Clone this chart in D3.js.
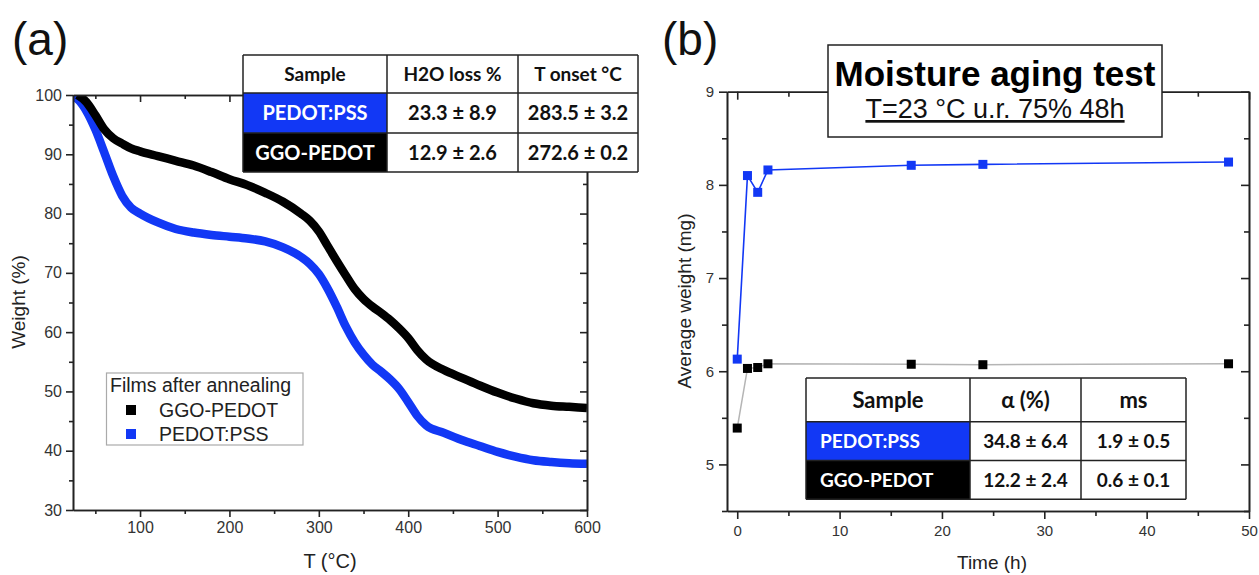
<!DOCTYPE html>
<html><head><meta charset="utf-8">
<script src="https://cdn.jsdelivr.net/npm/d3@7"></script>
<style>
body{margin:0;background:#fff;}
svg{display:block;font-family:"Liberation Sans",Arial,sans-serif;}
</style></head><body>
<svg id="chart" width="1259" height="575"></svg>
<script>
// ---------- Panel (a): TGA data ----------
const tgaTemperature = [25,30,40,50,60,70,80,90,100,120,140,160,180,200,220,240,260,280,290,300,310,320,330,340,350,360,370,380,390,400,410,420,440,460,480,500,520,540,560,580,600];
const ggoPedotWeight = [null,100,98.8,96.6,94.2,92.7,91.8,91.0,90.5,89.7,88.9,88.1,87.0,85.8,84.8,83.5,82.0,80.0,78.8,77.0,74.5,72.0,69.6,67.3,65.6,64.3,63.2,62.0,60.6,59.0,57.0,55.4,53.6,52.3,51.0,49.8,48.8,48.0,47.6,47.4,47.2];
const pedotPssWeight = [99.8,99.3,97.3,94.2,90.3,86.3,83.0,81.0,80.0,78.5,77.4,76.8,76.4,76.1,75.8,75.3,74.3,72.7,71.5,69.8,67.3,64.3,61.0,58.3,56.2,54.5,53.3,52.0,50.4,48.2,45.9,44.3,43.0,41.8,40.8,39.8,39.0,38.4,38.1,37.9,37.8];
const tgaXTicks = [100,200,300,400,500,600];
const tgaXMinor = [50,150,250,350,450,550];
const tgaYTicks = [30,40,50,60,70,80,90,100];
const tgaYMinor = [35,45,55,65,75,85,95];
const legendTitle = "Films after annealing";
const legendNames = ["GGO-PEDOT","PEDOT:PSS"];
const tableAHeader = ["Sample","H2O loss %","T onset °C"];
const tableARows = [["PEDOT:PSS","23.3 ± 8.9","283.5 ± 3.2"],["GGO-PEDOT","12.9 ± 2.6","272.6 ± 0.2"]];

// ---------- Panel (b): moisture aging ----------
const agingTime = [0,1,2,3,17,24,48];
const pedotPssAging = [6.13,8.10,7.92,8.16,8.21,8.22,8.245];
const ggoPedotAging = [5.39,6.03,6.04,6.08,6.075,6.07,6.08];
const agingXTicks = [0,10,20,30,40,50];
const agingXMinor = [5,15,25,35,45];
const agingYTicks = [5,6,7,8,9];
const agingYMinor = [4.5,5.5,6.5,7.5,8.5];
const agingTitle = "Moisture aging test";
const agingSubtitle = "T=23 °C u.r. 75% 48h";
const tableBHeader = ["Sample","α (%)","ms"];
const tableBRows = [["PEDOT:PSS","34.8 ± 6.4","1.9 ± 0.5"],["GGO-PEDOT","12.2 ± 2.4","0.6 ± 0.1"]];

const BLUE = "#1238f5";
const AX = "#222";
const svg = d3.select("#chart");
const fmt = d3.format("d");

function styleAxis(g, fs){
  g.selectAll("path.domain").attr("stroke",AX).attr("stroke-width",1.6);
  g.selectAll(".tick line").attr("stroke",AX).attr("stroke-width",1.6);
  g.selectAll(".tick text").attr("fill","#333").attr("font-size",fs).attr("font-family","'Liberation Sans',Arial,sans-serif");
}
function frame(x, y, xt, xm, yt, ym, fs, maj, mino, pad){
  const [x0,x1] = x.range(), [y0,y1] = y.range();
  const g = svg.append("g");
  const add = (axis, tr) => { const a = g.append("g").attr("transform",tr).call(axis); styleAxis(a, fs); return a; };
  add(d3.axisBottom(x).tickValues(xt).tickSize(maj).tickSizeOuter(0).tickPadding(pad+1).tickFormat(fmt), `translate(0,${y0})`);
  add(d3.axisBottom(x).tickValues(xm).tickSize(mino).tickSizeOuter(0).tickFormat(""), `translate(0,${y0})`);
  add(d3.axisLeft(y).tickValues(yt).tickSize(maj).tickSizeOuter(0).tickPadding(pad).tickFormat(fmt), `translate(${x0},0)`);
  add(d3.axisLeft(y).tickValues(ym).tickSize(mino).tickSizeOuter(0).tickFormat(""), `translate(${x0},0)`);
  add(d3.axisTop(x).tickValues(xt).tickSize(-maj).tickSizeOuter(0).tickFormat(""), `translate(0,${y1})`);
  add(d3.axisTop(x).tickValues(xm).tickSize(-mino).tickSizeOuter(0).tickFormat(""), `translate(0,${y1})`);
  add(d3.axisRight(y).tickValues(yt).tickSize(-maj).tickSizeOuter(0).tickFormat(""), `translate(${x1},0)`);
  add(d3.axisRight(y).tickValues(ym).tickSize(-mino).tickSizeOuter(0).tickFormat(""), `translate(${x1},0)`);
  return g;
}
function table(colX, rowY, header, rows, opts){
  const g = svg.append("g");
  g.append("rect").attr("x",colX[0]).attr("y",rowY[0]).attr("width",colX[3]-colX[0]).attr("height",rowY[3]-rowY[0]).attr("fill","#fff");
  const fills = [BLUE, "#000"];
  rows.forEach((r,i)=>{
    g.append("rect").attr("x",colX[0]).attr("y",rowY[i+1]).attr("width",colX[1]-colX[0]).attr("height",rowY[i+2]-rowY[i+1]).attr("fill",fills[i]);
  });
  const all = [header, ...rows];
  all.forEach((r,i)=>{
    r.forEach((t,j)=>{
      const cy = (rowY[i]+rowY[i+1])/2;
      const left = (j===0 && i>0 && opts.leftFirst);
      g.append("text")
        .attr("x", left ? colX[0]+opts.leftPad : (colX[j]+colX[j+1])/2)
        .attr("y", cy).attr("dy","0.36em")
        .attr("text-anchor", left ? "start" : "middle")
        .attr("font-family","Lato,'Open Sans',sans-serif").attr("font-weight",700)
        .attr("font-size", i===0 ? opts.headSize : opts.size)
        .attr("fill", (j===0 && i>0) ? "#fff" : "#111")
        .text(t);
    });
  });
  colX.forEach(cx => g.append("line").attr("x1",cx).attr("x2",cx).attr("y1",rowY[0]).attr("y2",rowY[3]).attr("stroke","#222").attr("stroke-width",1.5));
  rowY.forEach(ry => g.append("line").attr("x1",colX[0]).attr("x2",colX[3]).attr("y1",ry).attr("y2",ry).attr("stroke","#222").attr("stroke-width",1.5));
  return g;
}

// ================= Panel (a) =================
const xA = d3.scaleLinear().domain([25,600]).range([73,587]);
const yA = d3.scaleLinear().domain([30,100]).range([510,95]);

svg.append("clipPath").attr("id","clipA").append("rect").attr("x",73).attr("y",95).attr("width",514).attr("height",415);
const lineA = (vals) => d3.line().defined((d,i)=>vals[i]!=null).x((d)=>xA(d)).y((d,i)=>yA(vals[i])).curve(d3.curveMonotoneX)(tgaTemperature);
const curves = svg.append("g").attr("clip-path","url(#clipA)");
curves.append("path").attr("d",lineA(pedotPssWeight)).attr("fill","none").attr("stroke",BLUE).attr("stroke-width",8.5);
curves.append("path").attr("d",lineA(ggoPedotWeight)).attr("fill","none").attr("stroke","#000").attr("stroke-width",8.5);

frame(xA, yA, tgaXTicks, tgaXMinor, tgaYTicks, tgaYMinor, 16, 7, 4, 4);

svg.append("text").attr("x",12).attr("y",55).attr("font-size",46).attr("fill","#111").text("(a)");
svg.append("text").attr("transform","translate(25,302) rotate(-90)").attr("text-anchor","middle").attr("font-size",19).attr("fill","#222").text("Weight (%)");
svg.append("text").attr("x",330).attr("y",568).attr("text-anchor","middle").attr("font-size",20).attr("fill","#222").text("T (°C)");

// legend
const lg = svg.append("g");
lg.append("rect").attr("x",106.5).attr("y",373).attr("width",196.5).attr("height",72).attr("fill","#fff").attr("stroke","#aaa").attr("stroke-width",1.2);
lg.append("text").attr("x",110).attr("y",392).attr("font-size",19.5).attr("fill","#222").text(legendTitle);
[["#000",410],[BLUE,434]].forEach(([c,yy],i)=>{
  lg.append("rect").attr("x",126).attr("y",yy-5).attr("width",10).attr("height",10).attr("fill",c);
  lg.append("text").attr("x",159).attr("y",yy).attr("dy","0.35em").attr("font-size",19.5).attr("fill","#222").text(legendNames[i]);
});

table([243,387,518,638],[55,93,133,172], tableAHeader, tableARows, {size:20, headSize:19, leftFirst:false});

// ================= Panel (b) =================
const xB = d3.scaleLinear().domain([-1,50]).range([727,1249]);
const yB = d3.scaleLinear().domain([4.5,9]).range([511,91.7]);
frame(xB, yB, agingXTicks, agingXMinor, agingYTicks, agingYMinor, 15, 8, 5, 5);

const lineB = (vals) => d3.line().x(d=>xB(d)).y((d,i)=>yB(vals[i]))(agingTime);
svg.append("path").attr("d",lineB(ggoPedotAging)).attr("fill","none").attr("stroke","#b5b5b5").attr("stroke-width",1.5);
svg.append("path").attr("d",lineB(pedotPssAging)).attr("fill","none").attr("stroke",BLUE).attr("stroke-width",1.6);
const ms = 9;
svg.append("g").selectAll("rect").data(agingTime).join("rect")
  .attr("x",d=>xB(d)-ms/2).attr("y",(d,i)=>yB(ggoPedotAging[i])-ms/2).attr("width",ms).attr("height",ms).attr("fill","#000");
svg.append("g").selectAll("rect").data(agingTime).join("rect")
  .attr("x",d=>xB(d)-ms/2).attr("y",(d,i)=>yB(pedotPssAging[i])-ms/2).attr("width",ms).attr("height",ms).attr("fill",BLUE);

svg.append("text").attr("x",662).attr("y",55).attr("font-size",46).attr("fill","#111").text("(b)");
svg.append("text").attr("transform","translate(691,301) rotate(-90)").attr("text-anchor","middle").attr("font-size",19).attr("fill","#222").text("Average weight (mg)");
svg.append("text").attr("x",992).attr("y",569).attr("text-anchor","middle").attr("font-size",19).attr("fill","#222").text("Time (h)");

// title box
const tb = svg.append("g");
tb.append("rect").attr("x",828).attr("y",45).attr("width",334).attr("height",92).attr("fill","#fff").attr("stroke","#222").attr("stroke-width",1.5);
tb.append("text").attr("x",995).attr("y",86).attr("text-anchor","middle").attr("font-size",35).attr("font-weight","bold").attr("fill","#000").text(agingTitle);
tb.append("text").attr("x",995).attr("y",118).attr("text-anchor","middle").attr("font-size",27).attr("fill","#111").attr("text-decoration","underline").text(agingSubtitle);

table([806,970,1081,1186],[378,421.7,460.5,499.3], tableBHeader, tableBRows, {size:19, headSize:22, leftFirst:true, leftPad:14});
</script>
</body></html>
